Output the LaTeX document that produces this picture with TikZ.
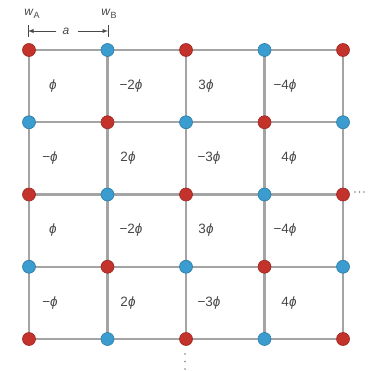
\documentclass[tikz,border=0pt]{standalone}
\usepackage{fontspec}
\setmainfont{Liberation Sans}
\begin{document}
\begin{tikzpicture}[x=1pt,y=-1pt,
  gridline/.style={draw=gridgray,line width=2.2pt},
  reddot/.style={circle,fill=dotred,draw=dotred!80!black,line width=0.6pt,minimum size=13pt,inner sep=0pt},
  bluedot/.style={circle,fill=dotblue,draw=dotblue!80!black,line width=0.6pt,minimum size=13pt,inner sep=0pt},
  celllabel/.style={font=\fontsize{13.5}{15}\selectfont,text=txtgray,anchor=center,inner sep=0pt},
  toplabel/.style={font=\fontsize{12}{14}\selectfont,text=txtgray,inner sep=0pt},
  smalldot/.style={circle,fill=txtgray!70,inner sep=0pt,minimum size=1.8pt}]
\definecolor{gridgray}{HTML}{A4A4A4}
\definecolor{dotred}{HTML}{C4322C}
\definecolor{dotblue}{HTML}{3A9CCF}
\definecolor{txtgray}{HTML}{484848}
\useasboundingbox (0,0) rectangle (368,371);
% grid lines
\foreach \j in {0,...,4}{
  \pgfmathsetmacro{\yy}{50+72.25*\j}
  \draw[gridline] (29,\yy) -- (343,\yy);
}
\foreach \i in {0,...,4}{
  \pgfmathsetmacro{\xx}{29+78.5*\i}
  \draw[gridline] (\xx,50) -- (\xx,339);
}
% dots
\foreach \i in {0,...,4}{
  \foreach \j in {0,...,4}{
    \pgfmathsetmacro{\xx}{29+78.5*\i}
    \pgfmathsetmacro{\yy}{50+72.25*\j}
    \pgfmathtruncatemacro{\parity}{mod(\i+\j,2)}
    \ifnum\parity=0
      \node[reddot] (n\i\j) at (\xx,\yy) {};
    \else
      \node[bluedot] (n\i\j) at (\xx,\yy) {};
    \fi
  }
}
% cell labels
\node[celllabel] (c11) at (53,86) {\textit{ϕ}};
\node[celllabel] (c21) at (131,86) {−2\textit{ϕ}};
\node[celllabel] (c31) at (206,86) {3\textit{ϕ}};
\node[celllabel] (c41) at (285,86) {−4\textit{ϕ}};
\node[celllabel] (c12) at (50,158) {−\textit{ϕ}};
\node[celllabel] (c22) at (128,158) {2\textit{ϕ}};
\node[celllabel] (c32) at (209,158) {−3\textit{ϕ}};
\node[celllabel] (c42) at (289,158) {4\textit{ϕ}};
\node[celllabel] (c13) at (53,230) {\textit{ϕ}};
\node[celllabel] (c23) at (131,230) {−2\textit{ϕ}};
\node[celllabel] (c33) at (206,230) {3\textit{ϕ}};
\node[celllabel] (c43) at (285,230) {−4\textit{ϕ}};
\node[celllabel] (c14) at (50,303) {−\textit{ϕ}};
\node[celllabel] (c24) at (128,303) {2\textit{ϕ}};
\node[celllabel] (c34) at (209,303) {−3\textit{ϕ}};
\node[celllabel] (c44) at (289,303) {4\textit{ϕ}};
% top labels
\node[toplabel] (wA) at (32,14) {\textit{w}\raisebox{-0.5ex}{\fontsize{9}{10}\selectfont A}};
\node[toplabel] (wB) at (109,14) {\textit{w}\raisebox{-0.5ex}{\fontsize{9}{10}\selectfont B}};
\node[toplabel] (alab) at (66,31) {\textit{a}};
\coordinate (aL) at (28,31);
\coordinate (aR) at (108,31);
\draw[txtgray,line width=0.9pt] (28,25) -- (28,37);
\draw[txtgray,line width=0.9pt] (108,25) -- (108,37);
\draw[txtgray,line width=0.9pt,-latex] (alab.west) ++(-6,0) -- (aL);
\draw[txtgray,line width=0.9pt,-latex] (alab.east) ++(8,0) -- (aR);
% continuation dots
\foreach \k in {0,1,2}{
  \node[smalldot] (h\k) at (355+4.5*\k,192) {};
  \node[smalldot] (v\k) at (185,354+7.5*\k) {};
}
\end{tikzpicture}
\end{document}
